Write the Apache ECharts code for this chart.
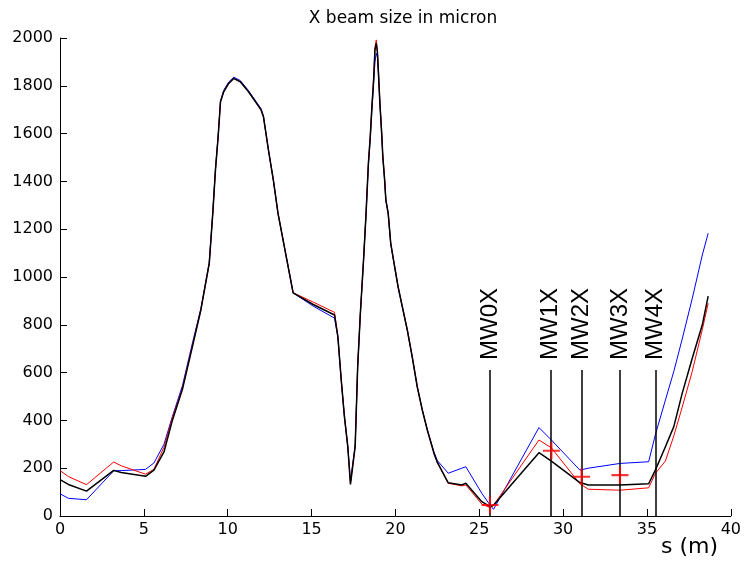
<!DOCTYPE html>
<html><head><meta charset="utf-8">
<script src="https://cdn.jsdelivr.net/npm/echarts@6/dist/echarts.min.js"></script>
<style>html,body{margin:0;padding:0;background:#fff}#c{width:744px;height:561px}</style>
</head><body><div id="c"></div>
<script>
const titleText = "X beam size in micron";
const xLabel = "s (m)";
const sPos = [0,0.5,1.58,3.2,3.65,5.1,5.6,6.2,6.7,7.3,7.9,8.4,8.9,9.11,9.27,9.43,9.57,9.76,10.06,10.36,10.75,11.24,11.99,12.13,12.43,12.72,13.0,13.9,15.1,16.37,16.57,16.77,16.96,17.16,17.32,17.6,17.75,17.91,18.1,18.25,18.39,18.5,18.6,18.7,18.78,18.86,18.93,18.99,19.07,19.17,19.25,19.35,19.43,19.57,19.72,19.92,20.16,20.41,20.71,21.0,21.3,21.6,21.9,22.3,22.5,23.15,23.96,24.2,25.15,25.65,25.85,28.56,29.3,31.0,31.5,33.4,35.1,35.5,36.1,36.6,37.1,37.7,38.3,38.65];
const blackVals = [152,132,104,191,182,166,192,268,400,530,710,862,1057,1266,1448,1587,1733,1775,1810,1831,1817,1775,1699,1671,1531,1406,1266,934,885,841,750,569,416,290,132,290,625,848,1071,1266,1476,1587,1713,1824,1950,1978,1937,1852,1733,1615,1503,1413,1322,1266,1141,1057,959,876,778,667,541,444,360,262,225,139,130,137,60,39,45,265,230,140,130,130,135,192,290,374,513,660,800,920];
const redVals = [190,165,131,226,210,175,195,288,410,535,715,862,1057,1266,1448,1587,1733,1775,1810,1831,1817,1775,1699,1671,1531,1406,1266,934,895,852,752,571,418,292,137,292,628,851,1075,1270,1480,1592,1718,1832,1960,1992,1945,1860,1740,1620,1508,1418,1326,1270,1144,1060,962,879,781,670,544,446,362,262,222,137,126,130,50,35,45,318,285,135,112,108,118,178,230,335,455,605,780,890];
const blueVals = [93,74,68,189,190,195,222,300,416,545,725,868,1062,1270,1452,1591,1737,1781,1816,1836,1822,1780,1704,1674,1531,1406,1266,934,878,828,748,567,414,290,145,296,622,845,1068,1262,1470,1578,1700,1808,1900,1936,1920,1845,1728,1612,1500,1410,1320,1264,1139,1055,957,874,776,665,540,444,362,268,232,179,200,206,95,45,28,370,318,192,200,220,227,340,485,605,740,910,1092,1183];
const monitorNames = ["MW0X","MW1X","MW2X","MW3X","MW4X"];
const monitorPos = [25.64,29.25,31.1,33.39,35.5];
const monitorTop = 611;
const measPos = [25.64,29.3,31.1,33.39];
const measVals = [46,273,164,171];
const xTicks = {min:0,max:40,interval:5};
const yTicks = {min:0,max:2000,interval:200};

const zip = (xs, ys) => xs.map((x,i)=>[x, ys[i]]);
const chart = echarts.init(document.getElementById('c'), null, {renderer:'canvas'});
const monitorLines = monitorPos.map(p => [{coord:[p,0]},{coord:[p,monitorTop]}]);
chart.setOption({
  animation:false,
  backgroundColor:'#fff',
  title:{text:titleText,left:398,textAlign:'center',top:5,textStyle:{fontFamily:'DejaVu Sans',fontSize:17,fontWeight:'normal',color:'#000'}},
  grid:{left:60,right:8,top:38,bottom:45,containLabel:false},
  xAxis:{type:'value',min:xTicks.min,max:xTicks.max,interval:xTicks.interval,
    axisLine:{lineStyle:{color:'#000',width:1}},
    axisTick:{inside:true,length:7,lineStyle:{color:'#000'}},
    axisLabel:{color:'#000',fontFamily:'DejaVu Sans',fontSize:16,margin:6,formatter:v=>String(v)},
    splitLine:{show:false}},
  yAxis:{type:'value',min:yTicks.min,max:yTicks.max,interval:yTicks.interval,
    axisLine:{show:true,lineStyle:{color:'#000',width:1}},
    axisTick:{show:true,inside:true,length:7,lineStyle:{color:'#000'}},
    axisLabel:{color:'#000',fontFamily:'DejaVu Sans',fontSize:16,margin:7,formatter:v=>String(v)},
    splitLine:{show:false}},
  graphic:[{type:'text',left:661,top:536,style:{text:xLabel,font:'22px "DejaVu Sans"',fill:'#000'}}],
  series:[
    {type:'line',data:zip(sPos,blueVals),showSymbol:false,lineStyle:{color:'#0000ff',width:1},z:2},
    {type:'line',data:zip(sPos,redVals),showSymbol:false,lineStyle:{color:'#ff0000',width:1},z:3},
    {type:'line',data:zip(sPos,blackVals),showSymbol:false,lineStyle:{color:'#000',width:1.5},z:4,
     markLine:{silent:true,symbol:['none','none'],lineStyle:{color:'#000',width:1.5,type:'solid'},label:{show:false},data:monitorLines}},
    {type:'scatter',data:zip(monitorPos,monitorPos.map(()=>monitorTop)).map((d,i)=>({value:d,name:monitorNames[i]})),
     symbolSize:0,z:6,silent:true,
     label:{show:true,formatter:p=>p.name,position:'top',distance:10,rotate:90,align:'left',verticalAlign:'middle',
       fontFamily:'Liberation Sans',fontSize:24,color:'#000',opacity:1}},
    {type:'scatter',data:zip(measPos,measVals),symbol:'path://M-1,-8H1V8H-1Z M-8,-1H8V1H-8Z',symbolSize:[17,17],
     itemStyle:{color:'#ff0000'},z:7}
  ]
});
</script></body></html>
